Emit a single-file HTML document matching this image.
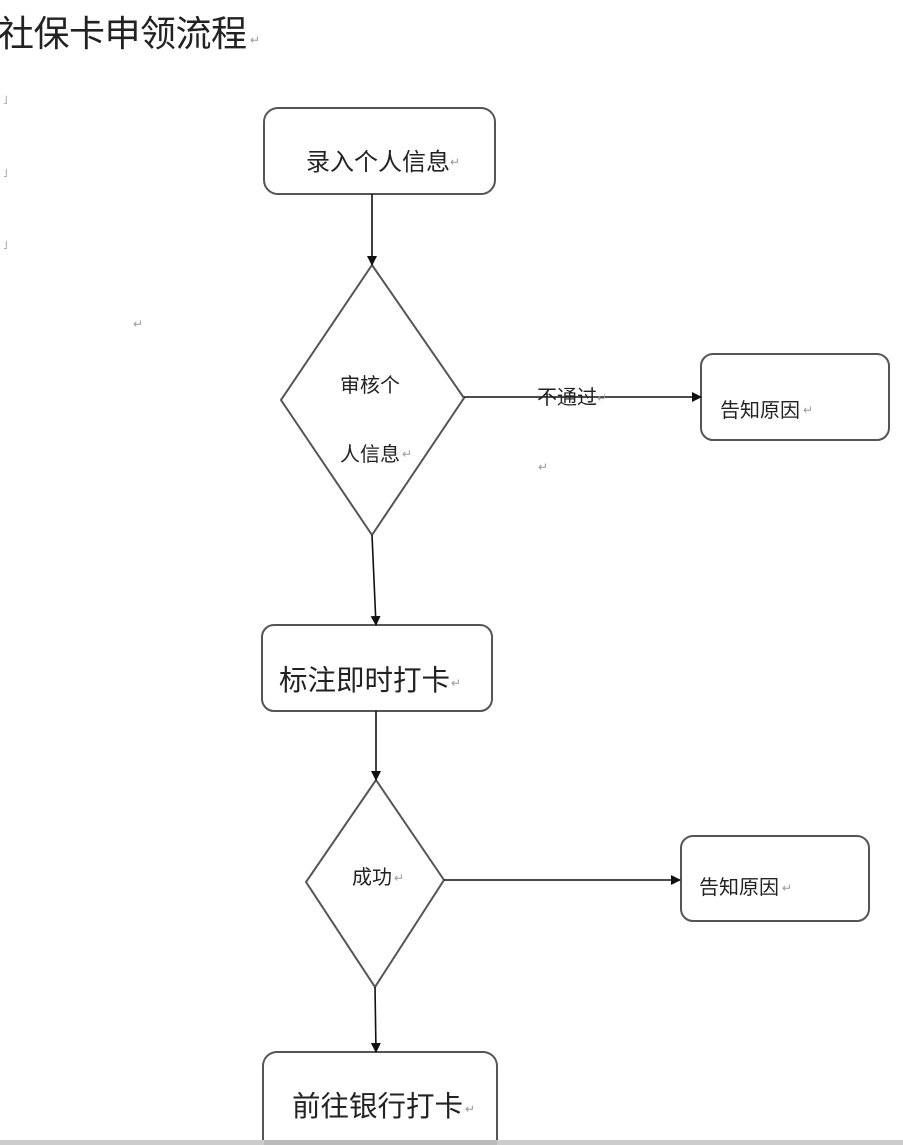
<!DOCTYPE html>
<html><head><meta charset="utf-8"><style>
html,body{margin:0;padding:0;background:#fff;}
svg{display:block;}
text{font-family:"Liberation Sans","Noto Sans CJK SC",sans-serif;fill:#222;}
.m{fill:#999;font-size:12px;}
</style></head><body>
<svg width="903" height="1145" viewBox="0 0 903 1145" xmlns="http://www.w3.org/2000/svg">
<defs><marker id="a" markerWidth="10" markerHeight="10" refX="9" refY="5" orient="auto" markerUnits="userSpaceOnUse"><path d="M0,0 L10,5 L0,10 z" fill="#111"/></marker></defs>
<text x="-2" y="46" font-size="36" fill="#111" letter-spacing="-0.5">社保卡申领流程</text><text x="250" y="44" class="m">↵</text>
<text x="3" y="104" class="m">˩</text><text x="3" y="177" class="m">˩</text><text x="3" y="249" class="m">˩</text>
<text x="133" y="328" class="m">↵</text><text x="538" y="471" class="m">↵</text>
<g fill="none" stroke="#555" stroke-width="2">
<rect x="264" y="108" width="231" height="86" rx="14"/>
<polygon points="372,265 464,398 372,535 281,400"/>
<rect x="701" y="354" width="188" height="86" rx="12"/>
<rect x="262" y="625" width="230" height="86" rx="12"/>
<polygon points="376,780 444,880 375,987 306,882"/>
<rect x="681" y="836" width="188" height="85" rx="12"/>
<rect x="263" y="1052" width="234" height="110" rx="14"/>
</g>
<g stroke="#111" stroke-width="1.6" marker-end="url(#a)">
<line x1="372" y1="194" x2="372" y2="265"/>
<line x1="464" y1="397" x2="701" y2="397"/>
<line x1="372" y1="535" x2="376" y2="625"/>
<line x1="376" y1="711" x2="376" y2="780"/>
<line x1="444" y1="880" x2="680" y2="880"/>
<line x1="375" y1="987" x2="376" y2="1052"/>
</g>
<text x="306" y="170" font-size="24">录入个人信息</text><text x="450" y="166" class="m">↵</text>
<text x="340" y="392" font-size="20">审核个</text>
<text x="340" y="461" font-size="20">人信息</text><text x="402" y="458" class="m">↵</text>
<text x="537" y="404" font-size="20">不通过</text><text x="597" y="402" class="m">↵</text>
<text x="720" y="417" font-size="20">告知原因</text><text x="803" y="414" class="m">↵</text>
<text x="279" y="690" font-size="28.5">标注即时打卡</text><text x="451" y="687" class="m">↵</text>
<text x="352" y="884" font-size="20">成功</text><text x="394" y="882" class="m">↵</text>
<text x="699" y="894" font-size="20">告知原因</text><text x="782" y="892" class="m">↵</text>
<text x="292" y="1116" font-size="28.5">前往银行打卡</text><text x="465" y="1113" class="m">↵</text>
<rect x="0" y="1140" width="903" height="5" fill="#ccc"/>
<rect x="264" y="1140" width="233" height="5" fill="#bbb"/>
</svg>
</body></html>
